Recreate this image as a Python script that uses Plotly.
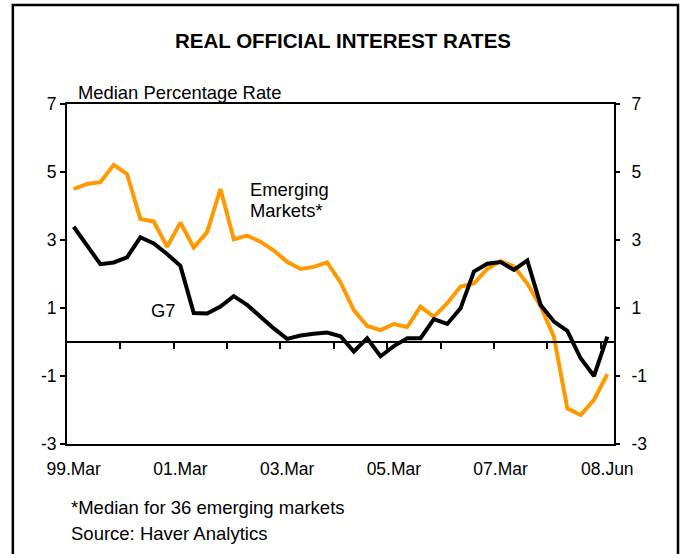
import plotly.graph_objects as go

# ---------------- data ----------------
period_index = list(range(41))          # quarterly observations, 99.Mar ... 08.Jun
tick_labels = ["99.Mar", "01.Mar", "03.Mar", "05.Mar", "07.Mar", "08.Jun"]
tick_label_index = [0, 8, 16, 24, 32, 40]

emerging_markets = [4.50, 4.65, 4.70, 5.21, 4.94, 3.62, 3.54, 2.80, 3.51, 2.78,
                    3.23, 4.50, 3.02, 3.13, 2.95, 2.69, 2.36, 2.15, 2.21, 2.34,
                    1.75, 0.94, 0.47, 0.35, 0.53, 0.44, 1.04, 0.74, 1.14, 1.63,
                    1.72, 2.15, 2.38, 2.22, 1.72, 1.05, 0.15, -1.95, -2.15, -1.70,
                    -0.95]
g7 = [3.39, 2.84, 2.29, 2.34, 2.49, 3.08, 2.90, 2.59, 2.24, 0.85,
      0.84, 1.04, 1.35, 1.09, 0.74, 0.40, 0.09, 0.19, 0.24, 0.28,
      0.17, -0.28, 0.11, -0.42, -0.12, 0.11, 0.11, 0.67, 0.53, 0.99,
      2.07, 2.30, 2.35, 2.12, 2.40, 1.09, 0.60, 0.33, -0.48, -1.00,
      0.16]
y_ticks = [-3, -1, 1, 3, 5, 7]
y_tick_text = ["-3", "-1", "1", "3", "5", "7"]
y_range = [-3, 7]

# ---------------- figure ----------------
x_range = [-0.5, len(period_index) - 0.5]
boundary_ticks = [x_range[0] + 4 * k for k in range(1, 11)]
zero_pos = (0 - y_range[0]) / (y_range[1] - y_range[0])

ORANGE = "#FF9900"
FONT = "Arial, 'Liberation Sans', sans-serif"

fig = go.Figure()
fig.add_trace(go.Scatter(x=period_index, y=emerging_markets, mode="lines",
                         line=dict(color=ORANGE, width=4),
                         xaxis="x", yaxis="y", showlegend=False,
                         name="Emerging Markets"))
fig.add_trace(go.Scatter(x=period_index, y=g7, mode="lines",
                         line=dict(color="black", width=4),
                         xaxis="x2", yaxis="y2", showlegend=False, name="G7"))

fig.update_layout(
    width=681, height=554,
    margin=dict(l=67, r=67, t=104, b=110, pad=0),
    paper_bgcolor="white", plot_bgcolor="white",
    font=dict(family=FONT, size=18, color="black"),
    xaxis=dict(range=x_range, tickvals=tick_label_index, ticktext=tick_labels,
               ticks="", showline=True, linecolor="black", linewidth=2,
               mirror=True, showgrid=False, zeroline=False,
               ticklabelstandoff=8, tickfont=dict(size=17.5)),
    xaxis2=dict(overlaying="x", anchor="free", position=zero_pos,
                range=x_range, tickvals=boundary_ticks, ticks="outside",
                ticklen=6, tickwidth=1.5, tickcolor="black",
                showticklabels=False, showline=True, linecolor="black",
                linewidth=1.5, showgrid=False, zeroline=False),
    yaxis=dict(range=y_range, tickvals=y_ticks, ticktext=y_tick_text,
               ticks="outside", ticklen=5,
               tickwidth=2, tickcolor="black", showline=True,
               linecolor="black", linewidth=2, mirror=True, showgrid=False,
               zeroline=False, tickfont=dict(size=17.5)),
    yaxis2=dict(overlaying="y", side="right", anchor="x2", range=y_range,
                tickvals=y_ticks, ticktext=y_tick_text, ticks="outside",
                ticklen=5, tickwidth=2, ticklabelstandoff=8,
                tickcolor="black", showline=False, showgrid=False,
                zeroline=False, tickfont=dict(size=17.5)),
)

annotations = [
    dict(text="<b>REAL OFFICIAL INTEREST RATES</b>", xref="paper", yref="paper",
         x=0.504, y=1.187, xanchor="center", yanchor="middle",
         font=dict(size=20.5)),
    dict(text="Median Percentage Rate", xref="paper", yref="paper",
         x=0.016, y=1.035, xanchor="left", yanchor="middle",
         font=dict(size=18.4)),
    dict(text="Emerging", xref="x", yref="y", x=13.1, y=4.5,
         xanchor="left", yanchor="middle", font=dict(size=18.4)),
    dict(text="Markets*", xref="x", yref="y", x=13.1, y=3.88,
         xanchor="left", yanchor="middle", font=dict(size=18.4)),
    dict(text="G7", xref="x", yref="y", x=5.65, y=0.94,
         xanchor="left", yanchor="middle", font=dict(size=18.4)),
    dict(text="*Median for 36 emerging markets", xref="paper", yref="paper",
         x=0.003, y=-0.188, xanchor="left", yanchor="middle",
         font=dict(size=18.5)),
    dict(text="Source: Haver Analytics", xref="paper", yref="paper",
         x=0.003, y=-0.262, xanchor="left", yanchor="middle",
         font=dict(size=18.5)),
]
fig.update_layout(annotations=[dict(showarrow=False, **a) for a in annotations])

# outer frame around the whole chart
fig.add_shape(type="rect", xref="paper", yref="paper",
              x0=-0.099, x1=1.117, y0=-0.36, y1=1.291,
              line=dict(color="black", width=2.5), layer="above")

# remove the default 8px page margin so the figure sits at the window origin
fig.write_html("out.html",
               config={"displayModeBar": False},
               post_script="document.body.style.margin='0';"
                           "document.body.style.overflow='hidden';")
